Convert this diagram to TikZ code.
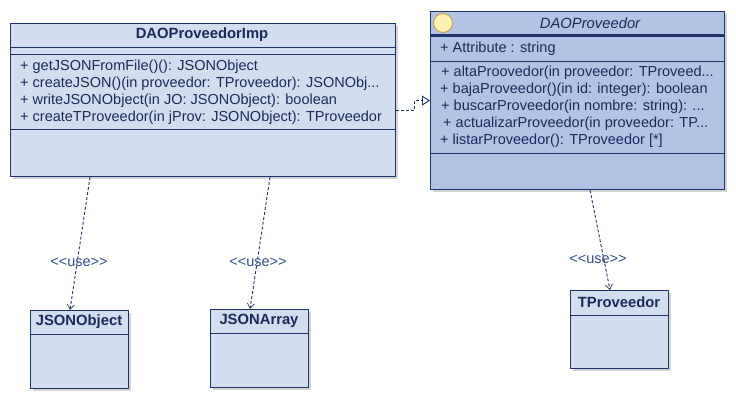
\documentclass[tikz,border=0pt]{standalone}
\usepackage{fontspec}
\setmainfont{Liberation Sans}
\usetikzlibrary{arrows.meta,shadows}
\definecolor{bordc}{HTML}{1F3468}
\definecolor{lightf}{HTML}{D3DDF0}
\definecolor{darkf}{HTML}{B3C3E6}
\definecolor{txtc}{HTML}{1A2A5A}
\definecolor{usec}{HTML}{30508F}
\definecolor{circf}{HTML}{FFF2B3}
\definecolor{circb}{HTML}{C8A040}
\newcommand{\uselabel}{<\kern0pt<use>\kern0pt>}
\tikzset{
  umlbox/.style={draw=bordc, line width=1.2pt, rectangle, anchor=north west, inner sep=0pt,
     drop shadow={shadow xshift=2pt, shadow yshift=-2pt, opacity=0.35, fill=gray}},
  sep/.style={draw=bordc, line width=1pt},
  txt/.style={anchor=west, inner sep=0pt, text=txtc, font=\fontsize{14.5}{17}\selectfont},
  ttl/.style={inner sep=0pt, text=txtc, font=\fontsize{14.8}{17}\selectfont\bfseries},
  uselbl/.style={inner sep=0pt, text=usec, font=\fontsize{14.5}{16}\selectfont},
  dep/.style={draw=bordc, line width=0.9pt, dash pattern=on 3pt off 2pt,
     -{Straight Barb[length=5pt, width=7pt, line width=0.7pt]}},
  real/.style={draw=bordc, line width=0.9pt, dash pattern=on 3pt off 2pt,
     -{Triangle[open, length=8pt, width=10pt, line width=0.9pt, fill=white]}},
}
\begin{document}
\begin{tikzpicture}[x=1pt, y=-1pt]
\useasboundingbox (0,0) rectangle (736,400);

% DAOProveedorImp
\node[umlbox, fill=lightf, minimum width=385pt, minimum height=153pt] (imp) at (10,23) {};
\node[ttl] (impt) at (202,35) {DAOProveedorImp};
\draw[sep] (10,47) -- (395,47);
\draw[sep] (10,54) -- (395,54);
\draw[sep] (10,129) -- (395,129);
\node[txt] (m1) at (20,67) {+ getJSONFromFile()(): JSONObject};
\node[txt] (m2) at (20,84) {+ createJSON()(in proveedor: TProveedor): JSONObj...};
\node[txt] (m3) at (20,101) {+ writeJSONObject(in JO: JSONObject): boolean};
\node[txt] (m4) at (20,118) {+ createTProveedor(in jProv: JSONObject): TProveedor};

% DAOProveedor
\node[umlbox, fill=darkf, minimum width=294pt, minimum height=178pt] (dao) at (430,11) {};
\node[draw=circb, fill=circf, circle, minimum size=19pt, inner sep=0pt, line width=0.9pt] (circ) at (443,23) {};
\node[ttl, font=\fontsize{14.8}{17}\selectfont\itshape] (daot) at (590,23) {DAOProveedor};
\draw[draw=bordc, line width=2.2pt] (430,35.5) -- (724,35.5);
\draw[sep] (430,61) -- (724,61);
\draw[sep] (430,153) -- (724,153);
\node[txt] (a1) at (440,49) {+ Attribute : string};
\node[txt] (d1) at (441,73) {+ altaProovedor(in proveedor: TProveed...};
\node[txt] (d2) at (440,90) {+ bajaProveedor()(in id: integer): boolean};
\node[txt] (d3) at (441,107) {+ buscarProveedor(in nombre: string): ...};
\node[txt] (d4) at (443,124) {+ actualizarProveedor(in proveedor: TP...};
\node[txt] (d5) at (440,141) {+ listarProveedor(): TProveedor [*]};

% JSONObject
\node[umlbox, fill=lightf, minimum width=98pt, minimum height=78pt] (jobj) at (30,310) {};
\node[ttl] (jobjt) at (79,322) {JSONObject};
\draw[sep] (30,334) -- (128,334);

% JSONArray
\node[umlbox, fill=lightf, minimum width=98pt, minimum height=78pt] (jarr) at (210,309) {};
\node[ttl] (jarrt) at (259,321) {JSONArray};
\draw[sep] (210,333) -- (308,333);

% TProveedor
\node[umlbox, fill=lightf, minimum width=98pt, minimum height=78pt] (tprov) at (570,290) {};
\node[ttl] (tprovt) at (619,302) {TProveedor};
\draw[sep] (570,315) -- (668,315);

% realization
\draw[real] ([yshift=-10.5pt]imp.east) -- ++(18,0) |- (dao.west);

% dependencies
\draw[dep] ([xshift=80pt]imp.south west) -- ([xshift=40pt]jobj.north west);
\draw[dep] ([xshift=260pt]imp.south west) -- ([xshift=40pt]jarr.north west);
\draw[dep] ([xshift=160pt]dao.south west) -- ([xshift=40pt]tprov.north west);

\node[uselbl] (u1) at (79,262) {\uselabel};
\node[uselbl] (u2) at (258,262) {\uselabel};
\node[uselbl] (u3) at (598,259) {\uselabel};
\end{tikzpicture}
\end{document}
